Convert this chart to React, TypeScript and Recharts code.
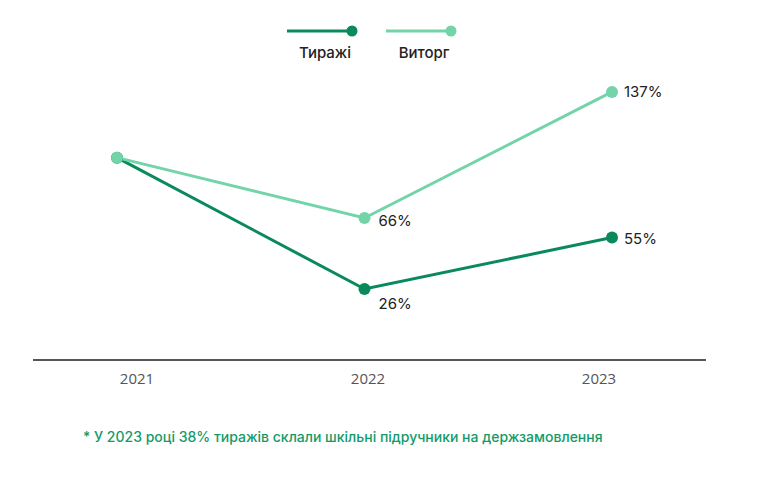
import React from 'react';
import { LineChart, Line, XAxis, YAxis } from 'recharts';

const years = ['2021', '2022', '2023'];
const tyrazhi = [100, 26, 55];
const vytorh = [100, 66, 137];
const seriesNames = ['Тиражі', 'Виторг'];
const footnote = '* У 2023 році 38% тиражів склали шкільні підручники на держзамовлення';

const DARK = '#0a8a5b';
const LIGHT = '#72d4a8';

const data = years.map((year, i) => ({ year, tyrazhi: tyrazhi[i], vytorh: vytorh[i] }));

const font = 'Inter, "Noto Sans", sans-serif';

const makeLabel = (offsets: Array<[number, number] | null>) => (props: any) => {
  const { x, y, value, index } = props;
  const off = offsets[index];
  if (!off) return null;
  return (
    <text
      x={x + off[0]}
      y={y + off[1]}
      dominantBaseline="central"
      fontSize={15}
      fontFamily={font}
      fill="#222"
    >
      {value}%
    </text>
  );
};

const Legendish = () => {
  const items = [
    { name: seriesNames[0], color: DARK, x: 287 },
    { name: seriesNames[1], color: LIGHT, x: 386 },
  ];
  return (
    <g>
      {items.map((it) => (
        <g key={it.name}>
          <line x1={it.x} y1={31} x2={it.x + 65} y2={31} stroke={it.color} strokeWidth={3} />
          <circle cx={it.x + 65} cy={31} r={5.5} fill={it.color} />
          <text
            x={it.x + 38}
            y={52}
            textAnchor="middle"
            dominantBaseline="central"
            fontSize={15}
            fontWeight={500}
            fontFamily={font}
            fill="#222"
          >
            {it.name}
          </text>
        </g>
      ))}
    </g>
  );
};

export default function App() {
  return (
    <div style={{ position: 'relative', width: 770, height: 478, margin: -8, background: '#fff' }}>
      <LineChart
        width={770}
        height={478}
        data={data}
        margin={{ top: 60, right: 64, left: 33, bottom: 88 }}
      >
        <XAxis
          xAxisId="ticks"
          dataKey="year"
          axisLine={{ stroke: '#555', strokeWidth: 2 }}
          tickLine={false}
          tickMargin={7}
          height={30}
          padding={{ left: 104, right: 107 }}
          tick={{ fill: '#555', fontSize: 15, fontFamily: '"Open Sans", sans-serif', fontWeight: 400 }}
        />
        <XAxis xAxisId="pts" dataKey="year" hide height={0} padding={{ left: 84, right: 94 }} />
        <YAxis hide domain={[-14, 155]} />
        <Line
          xAxisId="pts"
          dataKey="tyrazhi"
          name={seriesNames[0]}
          stroke={DARK}
          strokeWidth={3}
          dot={{ r: 6, fill: DARK, stroke: DARK, strokeWidth: 0 }}
          isAnimationActive={false}
          label={makeLabel([null, [14, 15], [12, 1]])}
        />
        <Line
          xAxisId="pts"
          dataKey="vytorh"
          name={seriesNames[1]}
          stroke={LIGHT}
          strokeWidth={3}
          dot={{ r: 6, fill: LIGHT, stroke: LIGHT, strokeWidth: 0 }}
          isAnimationActive={false}
          label={makeLabel([null, [14, 3], [12, 0]])}
        />
        <Legendish />
      </LineChart>
      <div
        style={{
          position: 'absolute',
          left: 83,
          top: 428,
          fontFamily: font,
          fontSize: 14,
          fontWeight: 500,
          color: '#139a69',
          whiteSpace: 'nowrap',
        }}
      >
        {footnote}
      </div>
    </div>
  );
}
